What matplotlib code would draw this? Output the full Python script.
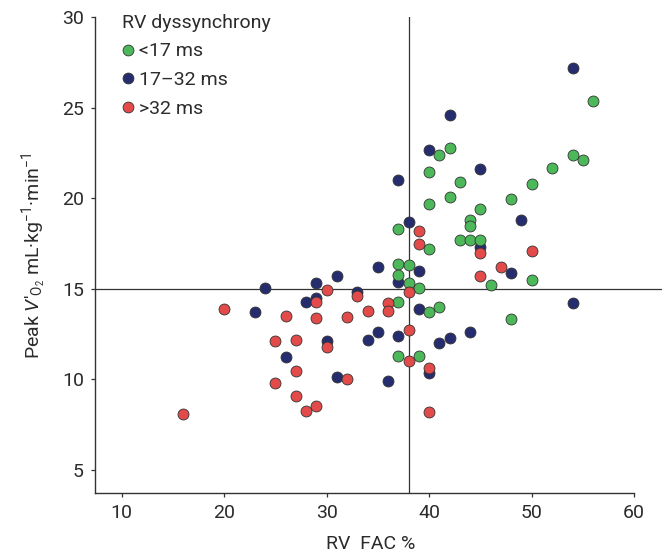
import matplotlib
matplotlib.use("Agg")
import matplotlib.pyplot as plt
from matplotlib.lines import Line2D

plt.rcParams['font.family'] = ['Roboto', 'DejaVu Sans']
plt.rcParams['mathtext.fontset'] = 'custom'
plt.rcParams['mathtext.rm'] = 'Roboto'
plt.rcParams['mathtext.it'] = 'Roboto:italic'

# <17 ms
green_x = [56, 54, 55, 52, 50, 48, 42, 41, 40, 43, 42, 40, 45, 37, 44, 44, 43, 44, 45,
           40, 37, 38, 37, 38, 39, 46, 50, 37, 40, 41, 48, 37, 39]
green_y = [25.4, 22.4, 22.1, 21.7, 20.8, 19.95, 22.8, 22.4, 21.45, 20.9, 20.1, 19.7, 19.4,
           18.3, 18.8, 18.5, 17.7, 17.7, 17.7, 17.2, 16.35, 16.3, 15.75, 15.35, 15.05,
           15.2, 15.5, 14.3, 13.7, 14.0, 13.35, 11.3, 11.3]
# 17-32 ms
blue_x = [54, 42, 40, 45, 37, 38, 49, 45, 48, 35, 39, 31, 37, 29, 24, 29, 28, 33, 23,
          39, 54, 44, 42, 41, 35, 34, 37, 30, 26, 40, 31, 36]
blue_y = [27.2, 24.6, 22.7, 21.6, 21.0, 18.7, 18.8, 17.3, 15.9, 16.2, 16.0, 15.7, 15.4,
          15.3, 15.05, 14.5, 14.25, 14.8, 13.7, 13.9, 14.2, 12.6, 12.3, 12.0, 12.6, 12.2,
          12.4, 12.1, 11.25, 10.35, 10.1, 9.9]
# >32 ms
red_x = [39, 39, 45, 50, 47, 45, 38, 30, 29, 33, 36, 36, 34, 32, 29, 20, 26, 38, 30,
         25, 27, 38, 40, 32, 27, 25, 27, 28, 29, 16, 40]
red_y = [18.2, 17.5, 17.0, 17.1, 16.2, 15.7, 14.8, 14.95, 14.25, 14.6, 14.2, 13.8, 13.8,
         13.47, 13.4, 13.9, 13.5, 12.7, 11.8, 12.1, 12.2, 11.0, 10.6, 10.0, 10.45, 9.8,
         9.1, 8.25, 8.5, 8.07, 8.2]

labels = ['<17 ms', '17\u201332 ms', '>32 ms']
colors = ['#4cb85a', '#252d6e', '#e34a4a']
x_ticks = [10, 20, 30, 40, 50, 60]
y_ticks = [5, 10, 15, 20, 25, 30]
fac_cut = 38
vo2_cut = 15

text_col = '#2b2b2b'
fs = 14
fig = plt.figure(figsize=(6.68, 5.57), dpi=100)
ax = fig.add_axes([0.1422, 0.1144, 0.8484, 0.8542])
ax.set_xlim(7.4, 62.7)
ax.set_ylim(3.7, 30)

ax.axvline(fac_cut, color='#333333', lw=0.9, zorder=1)
ax.axhline(vo2_cut, color='#333333', lw=0.9, zorder=1)

ms = 62
ax.scatter(blue_x, blue_y, s=ms, c=colors[1], edgecolors='#333333', linewidths=0.6, zorder=3)
ax.scatter(green_x, green_y, s=ms, c=colors[0], edgecolors='#333333', linewidths=0.6, zorder=4)
ax.scatter(red_x, red_y, s=ms, c=colors[2], edgecolors='#333333', linewidths=0.6, zorder=5)

for s in ['top', 'right']:
    ax.spines[s].set_visible(False)
ax.spines['left'].set_bounds(3.7, 30)
ax.spines['bottom'].set_bounds(7.4, 60)
for s in ['left', 'bottom']:
    ax.spines[s].set_color('#333333')
    ax.spines[s].set_linewidth(1.0)

ax.set_xticks(x_ticks)
ax.set_yticks(y_ticks)
ax.tick_params(direction='out', length=3, width=0.9, color='#333333',
               labelsize=fs, labelcolor=text_col, pad=5)

ax.set_xlabel('RV  FAC %', fontsize=fs, color=text_col, labelpad=9)
ax.xaxis.label.set_x(0.486)
ax.set_ylabel(r"Peak $\mathit{V}$'$_{\mathrm{O_2}}$ mL·kg$^{-1}$·min$^{-1}$", fontsize=fs,
              color=text_col, labelpad=10)

handles = [Line2D([], [], marker='o', ls='', markersize=7.8, markerfacecolor=c,
                  markeredgecolor='#333333', markeredgewidth=0.6) for c in colors]
leg = ax.legend(handles, labels, title='RV dyssynchrony', loc='upper left',
                bbox_to_anchor=(0.048, 1.008), frameon=False, fontsize=fs,
                title_fontsize=fs, handletextpad=0.3, labelspacing=0.55,
                handlelength=0.55, borderaxespad=0.0, borderpad=0.0)
leg._legend_box.align = 'left'
for t in leg.get_texts():
    t.set_color(text_col)
leg.get_title().set_color(text_col)

fig.savefig('out.png', dpi=100)
